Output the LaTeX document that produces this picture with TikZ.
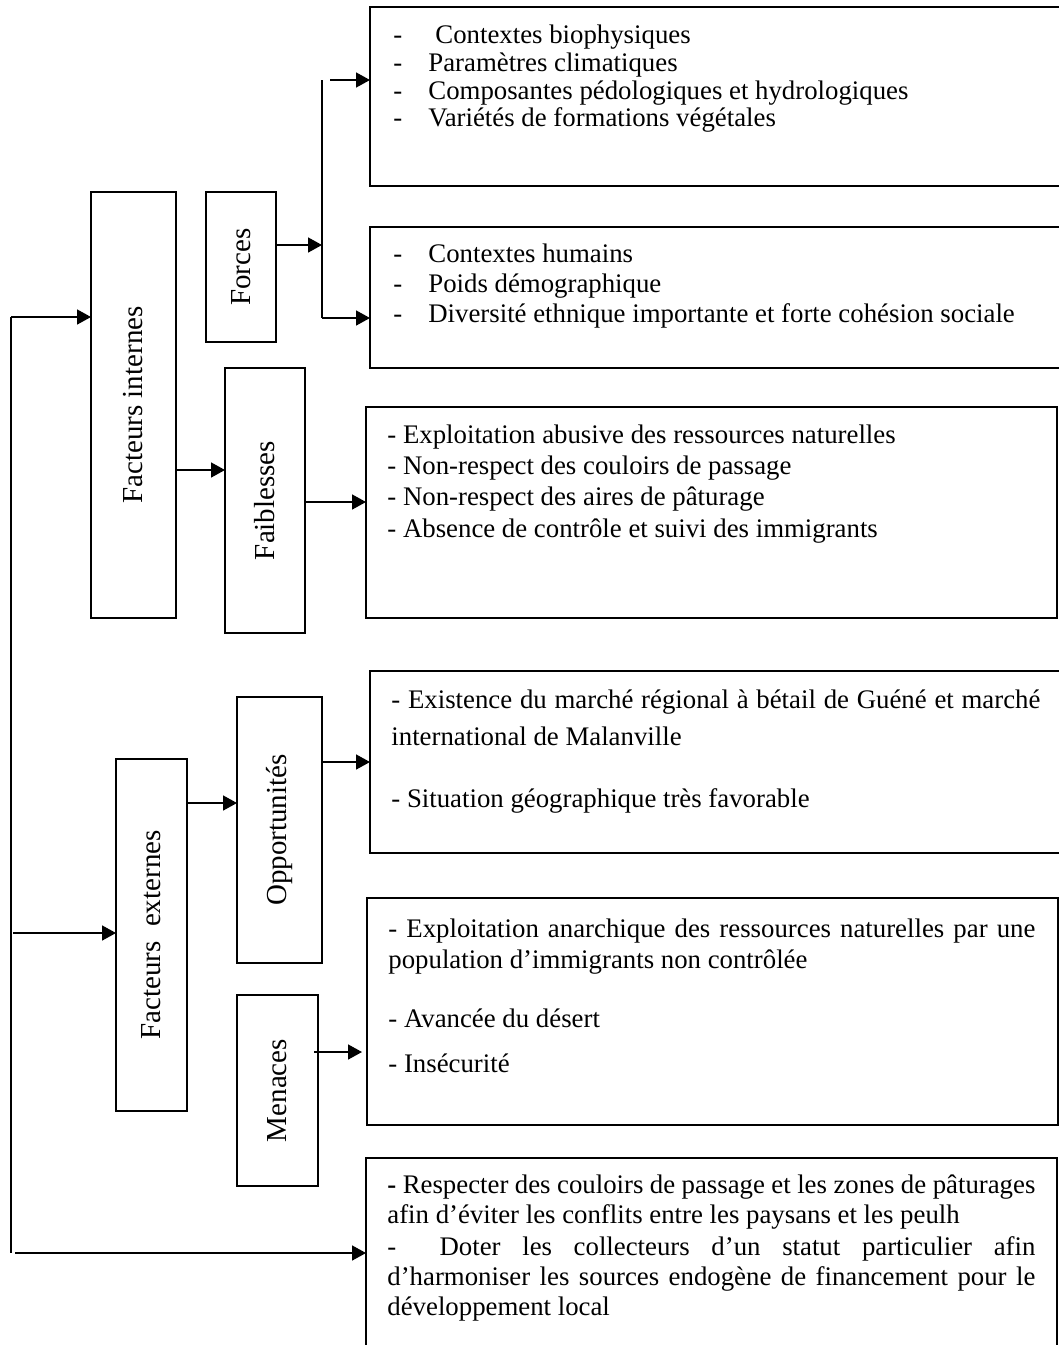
\documentclass[tikz,border=0pt]{standalone}
\usepackage{fontspec}
\setmainfont{Liberation Serif}
\usetikzlibrary{arrows.meta}
\tikzset{
  box/.style={draw, line width=0.9pt, inner sep=0pt, outer sep=0pt},
  lbl/.style={font=\fontsize{14.5}{17}\selectfont, inner sep=0pt, rotate=90},
  txt/.style={font=\fontsize{13.4}{16}\selectfont, inner sep=0pt, anchor=base west},
  arr/.style={line width=0.8pt, -{Triangle[length=7pt,width=7.5pt]}},
  conn/.style={line width=0.8pt},
}
\newcommand\mkbox[5]{\node[box, minimum width={(#4-#2)*0.5pt}, minimum height={(#5-#3)*0.5pt}] (#1) at ({(#2+#4)/2},{(#3+#5)/2}) {};}
\newcommand\dsh[1]{\makebox[#1][l]{-}}
\begin{document}
\begin{tikzpicture}[x=0.5pt,y=-0.5pt]
\useasboundingbox (0,0) rectangle (1059,1345);
\clip (0,0) rectangle (1059,1345);
% left column boxes
\mkbox{FI}{91}{192}{176}{618}
\mkbox{FO}{206}{192}{276}{342}
\mkbox{FA}{225}{368}{305}{633}
\mkbox{FE}{116}{759}{187}{1111}
\mkbox{OP}{237}{697}{322}{963}
\mkbox{ME}{237}{995}{318}{1186}
\node[lbl] (tFI) at (FI) {Facteurs internes};
\node[lbl] (tFO) at (FO) {Forces};
\node[lbl] (tFA) at (FA) {Faiblesses};
\node[lbl] (tFE) at (FE) {Facteurs~~externes};
\node[lbl] (tOP) at (OP) {Opportunités};
\node[lbl] (tME) at (ME) {Menaces};
% right boxes
\mkbox{B1}{370}{7}{1080}{186}
\mkbox{B2}{370}{227}{1080}{368}
\mkbox{B3}{366}{407}{1057}{618}
\mkbox{B4}{370}{671}{1080}{853}
\mkbox{B5}{367}{898}{1058}{1125}
\mkbox{B6}{366}{1158}{1057}{1370}
% texts B1
\node[txt] (b1a) at (393,43) {\dsh{21pt}Contextes biophysiques};
\node[txt] (b1b) at (393,71) {\dsh{17.5pt}Paramètres climatiques};
\node[txt] (b1c) at (393,99) {\dsh{17.5pt}Composantes pédologiques et hydrologiques};
\node[txt] (b1d) at (393,126) {\dsh{17.5pt}Variétés de formations végétales};
% B2
\node[txt] (b2a) at (393,262) {\dsh{17.5pt}Contextes humains};
\node[txt] (b2b) at (393,292) {\dsh{17.5pt}Poids démographique};
\node[txt] (b2c) at (393,322) {\dsh{17.5pt}Diversité ethnique importante et forte cohésion sociale};
% B3
\node[txt] (b3a) at (387,443) {- Exploitation abusive des ressources naturelles};
\node[txt] (b3b) at (387,474) {- Non-respect des couloirs de passage};
\node[txt] (b3c) at (387,505) {- Non-respect des aires de pâturage};
\node[txt] (b3d) at (387,537) {- Absence de contrôle et suivi des immigrants};
% B4
\node[txt] (b4a) at (391,708) {\makebox[324.5pt][s]{- Existence du marché régional à bétail de Guéné et marché}};
\node[txt] (b4b) at (391,745) {international de Malanville};
\node[txt] (b4c) at (391,807) {- Situation géographique très favorable};
% B5
\node[txt] (b5a) at (388,937) {\makebox[323.5pt][s]{- Exploitation anarchique des ressources naturelles par une}};
\node[txt] (b5b) at (388,968) {population d’immigrants non contrôlée};
\node[txt] (b5c) at (388,1027) {- Avancée du désert};
\node[txt] (b5d) at (388,1072) {- Insécurité};
% B6
\node[txt] (b6a) at (387,1193) {\makebox[324pt][s]{\textbf{-} Respecter des couloirs de passage et les zones de pâturages}};
\node[txt] (b6b) at (387,1223) {afin d’éviter les conflits entre les paysans et les peulh};
\node[txt] (b6c) at (387,1255) {\makebox[324pt][s]{- \ Doter les collecteurs d’un statut particulier afin}};
\node[txt] (b6d) at (387,1285) {\makebox[324pt][s]{d’harmoniser les sources endogène de financement pour le}};
\node[txt] (b6e) at (387,1315) {développement local};
% connectors
\coordinate (L1) at (11,317);
\coordinate (L2) at (11,1253);
\draw[conn] (L1) -- (L2);
\draw[arr] (L1) -- (L1 -| FI.west);
\coordinate (LE) at (13,933);
\draw[arr] (LE) -- (LE -| FE.west);
\coordinate (LB) at (15,1253);
\draw[arr] (LB) -- (LB -| B6.west);
% Forces branch
\coordinate (V1) at (322,80);
\coordinate (V2) at (322,318);
\draw[conn] (V1) -- (V2);
\coordinate (VF) at (322,245);
\draw[arr] (VF -| FO.east) -- (VF);
\coordinate (A1) at (330,80);
\draw[arr] (A1) -- (A1 -| B1.west);
\draw[arr] (V2) -- (V2 -| B2.west);
% others
\coordinate (Y1) at (0,470);
\draw[arr] (FI.east |- Y1) -- (FA.west |- Y1);
\coordinate (Y2) at (0,502);
\draw[arr] (FA.east |- Y2) -- (B3.west |- Y2);
\coordinate (Y3) at (0,803);
\draw[arr] (FE.east |- Y3) -- (OP.west |- Y3);
\coordinate (Y4) at (0,762);
\draw[arr] (OP.east |- Y4) -- (B4.west |- Y4);
\coordinate (M1) at (314,1052);
\coordinate (M2) at (362,1052);
\draw[arr] (M1) -- (M2);
\end{tikzpicture}
\end{document}
